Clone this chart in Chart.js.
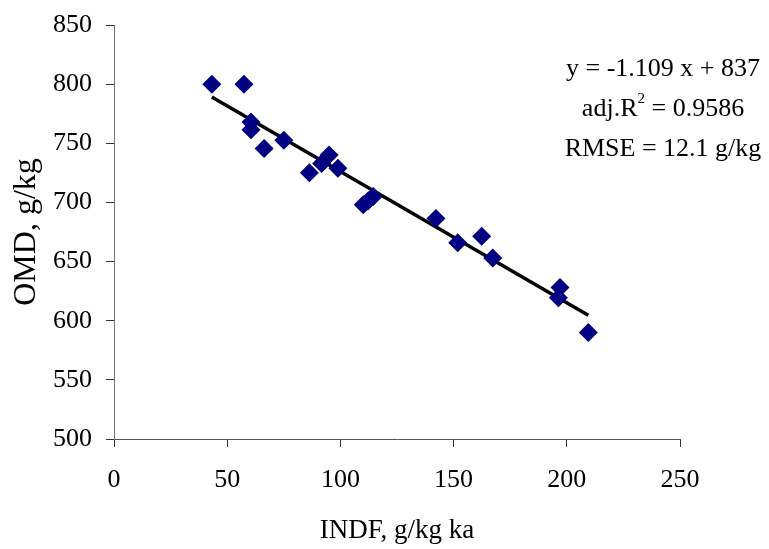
<!DOCTYPE html>
<html>
<head>
<meta charset="utf-8">
<script src="https://cdn.jsdelivr.net/npm/chart.js@4/dist/chart.umd.min.js"></script>
<style>
  html, body { margin: 0; padding: 0; background: #fff; }
  #wrap { width: 769px; height: 549px; position: relative; }
</style>
</head>
<body>
<div id="wrap"><canvas id="c" width="769" height="549"></canvas></div>
<script>
// Observed data (INDF, g/kg ka  vs  OMD, g/kg)
const indf = [43.2, 57.4, 60.5, 60.5, 66.3, 75.0, 86.3, 91.7, 95.0, 98.9, 110.1, 112.3, 114.5, 142.2, 151.8, 162.4, 167.3, 196.3, 197.0, 209.5];
const omd  = [800, 800, 768, 761.5, 745.5, 752.5, 725, 733, 740, 729, 698, 701.5, 705, 686.5, 666, 671.5, 653, 619.5, 628, 590];
// Fitted line endpoints
const fitX = [43.2, 209.5];
const fitY = [789.1, 604.7];
// Axis ticks
const xTicks = [0, 50, 100, 150, 200, 250];
const yTicks = [500, 550, 600, 650, 700, 750, 800, 850];
// Annotation text
const eqLine = "y = -1.109 x + 837";
const r2Prefix = "adj.R";
const r2Sup = "2";
const r2Rest = " = 0.9586";
const rmseLine = "RMSE = 12.1 g/kg";

const FONT = "'Liberation Serif', 'Times New Roman', serif";

const pts = indf.map((x, i) => ({ x: x, y: omd[i] }));
const fit = fitX.map((x, i) => ({ x: x, y: fitY[i] }));

const annotPlugin = {
  id: 'annot',
  afterDraw(chart) {
    const ctx = chart.ctx;
    ctx.save();
    ctx.fillStyle = '#000';
    ctx.textBaseline = 'alphabetic';
    const cx = 663;
    ctx.font = '26px ' + FONT;
    ctx.textAlign = 'center';
    ctx.fillText(eqLine, cx, 76);
    ctx.fillText(rmseLine, cx, 156);
    // line with superscript
    ctx.textAlign = 'left';
    ctx.font = '26px ' + FONT;
    const w1 = ctx.measureText(r2Prefix).width;
    const w3 = ctx.measureText(r2Rest).width;
    ctx.font = '15px ' + FONT;
    const w2 = ctx.measureText(r2Sup).width;
    const total = w1 + w2 + w3;
    let x = cx - total / 2;
    const base = 116;
    ctx.font = '26px ' + FONT;
    ctx.fillText(r2Prefix, x, base);
    x += w1;
    ctx.font = '15px ' + FONT;
    ctx.fillText(r2Sup, x, base - 13);
    x += w2;
    ctx.font = '26px ' + FONT;
    ctx.fillText(r2Rest, x, base);
    ctx.restore();
  }
};

new Chart(document.getElementById('c'), {
  type: 'scatter',
  data: {
    datasets: [
      {
        label: 'fit',
        type: 'line',
        data: fit,
        borderColor: '#000',
        borderWidth: 3.5,
        pointRadius: 0,
        fill: false,
        order: 2
      },
      {
        label: 'OMD',
        data: pts,
        pointStyle: 'rectRot',
        pointRadius: 9.5,
        pointHoverRadius: 9.5,
        backgroundColor: '#000080',
        borderColor: '#000080',
        borderWidth: 0,
        order: 1
      }
    ]
  },
  options: {
    responsive: false,
    animation: false,
    events: [],
    layout: { padding: { left: 0, right: 89, top: 25, bottom: 0 } },
    plugins: { legend: { display: false }, tooltip: { enabled: false } },
    scales: {
      x: {
        type: 'linear',
        min: 0, max: 250,
        afterBuildTicks(scale) { scale.ticks = xTicks.map(v => ({ value: v })); },
        afterFit(scale) { scale.height = 110; scale.paddingLeft = 0; scale.paddingRight = 0; },
        grid: { display: true, drawOnChartArea: false, drawTicks: true, tickLength: 8, color: '#333', lineWidth: 1 },
        border: { display: true, color: '#555', width: 1 },
        ticks: { color: '#000', font: { family: FONT, size: 26 }, padding: 18, maxRotation: 0 },
        title: { display: true, text: 'INDF, g/kg ka', color: '#000', font: { family: FONT, size: 27 }, padding: { top: 0, bottom: 2 } }
      },
      y: {
        type: 'linear',
        min: 500, max: 850,
        afterBuildTicks(scale) { scale.ticks = yTicks.map(v => ({ value: v })); },
        afterFit(scale) { scale.width = 114; scale.paddingTop = 0; scale.paddingBottom = 0; },
        grid: { display: true, drawOnChartArea: false, drawTicks: true, tickLength: 8, color: '#333', lineWidth: 1 },
        border: { display: true, color: '#777', width: 1 },
        ticks: { color: '#000', font: { family: FONT, size: 26 }, padding: 14 },
        title: { display: true, text: 'OMD, g/kg', color: '#000', font: { family: FONT, size: 32 }, padding: { top: 7, bottom: 0 } }
      }
    }
  },
  plugins: [annotPlugin]
});
</script>
</body>
</html>
